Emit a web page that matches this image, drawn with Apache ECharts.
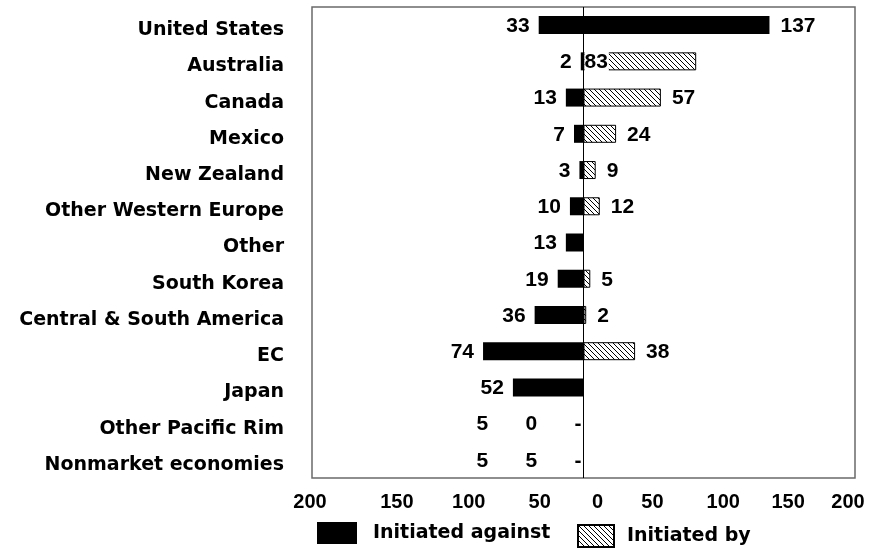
<!DOCTYPE html>
<html><head><meta charset="utf-8">
<script src="https://cdn.jsdelivr.net/npm/echarts@6/dist/echarts.min.js"></script>
<style>html,body{margin:0;padding:0;background:#fff}#c{width:878px;height:554px}</style>
</head><body><div id="c"></div>
<script>
// ---- data ----
const categories = ['United States','Australia','Canada','Mexico','New Zealand','Other Western Europe','Other','South Korea','Central & South America','EC','Japan','Other Pacific Rim','Nonmarket economies'];
const initiatedAgainst = [33,2,13,7,3,10,13,19,36,74,52,50,55];
const initiatedBy = [137,83,57,24,9,12,null,5,2,38,null,null,null];
const tickValues = [-200,-150,-100,-50,0,50,100,150,200];
const tickLabels = ['200','150','100','50','0','50','100','150','200'];
const legendLabels = ['Initiated against','Initiated by'];
const unplottedRows = ['Other Pacific Rim','Nonmarket economies']; // values printed, bars not drawn
const solidByRows = ['United States'];   // "initiated by" bar drawn solid black
const insideLabelRows = ['Australia'];   // "initiated by" value printed inside the bar

// ---- styles ----
const NUM_FONT = 'Liberation Sans';
const TXT_FONT = 'DejaVu Sans';
const tickShift = [-2,17,21,24,14,1,4,1,-7];
const rich = {};
tickShift.forEach((s,i)=>{
  rich['t'+i] = {fontFamily:NUM_FONT,fontWeight:'bold',fontSize:20,color:'#000',
    padding: s>=0 ? [0,0,0,2*s] : [0,-2*s,0,0]};
});

function hatch(){
  const s=5, c=document.createElement('canvas');
  c.width=s; c.height=s;
  const g=c.getContext('2d');
  g.fillStyle='#fff'; g.fillRect(0,0,s,s);
  g.strokeStyle='#000'; g.lineWidth=1;
  g.beginPath();
  g.moveTo(-1,-1); g.lineTo(s+1,s+1);
  g.moveTo(-1,s-1); g.lineTo(1,s+1);
  g.moveTo(s-1,-1); g.lineTo(s+1,1);
  g.stroke();
  return c;
}
const hatchFill = {image: hatch(), repeat: 'repeat'};

const labelBase = {show:true, fontFamily:NUM_FONT, fontWeight:'bold', fontSize:21, color:'#000', offset:[0,1]};

const againstData = initiatedAgainst.map((v,i)=>{
  if (unplottedRows.includes(categories[i])) {
    const d = String(v).split('');
    return {value:-v, itemStyle:{color:'rgba(0,0,0,0)'},
      label:{position:'insideRight', distance:3,
        formatter: d.map(x=>'{d|'+x+'}').join('')+'{m|-}',
        rich:{d:{width:49,align:'left',fontFamily:NUM_FONT,fontWeight:'bold',fontSize:21,color:'#000'},
              m:{width:6,align:'left',fontFamily:NUM_FONT,fontWeight:'bold',fontSize:21,color:'#000'}}}};
  }
  return -v;
});

const byData = initiatedBy.map((v,i)=>{
  if (v === null) return null;
  const name = categories[i];
  if (solidByRows.includes(name)) return {value:v, itemStyle:{color:'#000', borderWidth:0}};
  if (insideLabelRows.includes(name)) return {value:v,
    label:{position:'insideLeft', distance:1, backgroundColor:'#fff', padding:[1,1,0,0]}};
  return v;
});

const chart = echarts.init(document.getElementById('c'));
chart.setOption({
  animation:false,
  backgroundColor:'#fff',
  grid:{left:312, right:23, top:7, bottom:76, show:true, borderColor:'#6a6a6a', borderWidth:1.5, backgroundColor:'transparent'},
  xAxis:{type:'value', min:-200, max:200, interval:50,
    axisLine:{show:false}, axisTick:{show:false}, splitLine:{show:false},
    axisLabel:{margin:14, formatter:(v)=>{const i=tickValues.indexOf(v); return '{t'+i+'|'+tickLabels[i]+'}';}, rich:rich}},
  yAxis:{type:'category', data:categories, inverse:true,
    axisLine:{show:false}, axisTick:{show:false},
    axisLabel:{margin:28, formatter:(v)=>'{c|'+v+'}',
      rich:{c:{fontFamily:TXT_FONT, fontWeight:'bold', fontSize:19, color:'#000', padding:[10,0,0,0]}}}},
  legend:[
    {left:312, top:517, data:[legendLabels[0]], itemWidth:40, itemHeight:22, icon:'rect',
     textStyle:{fontFamily:TXT_FONT, fontWeight:'bold', fontSize:19, color:'#000', padding:[0,0,0,11]}},
    {left:572, top:519, data:[legendLabels[1]], itemWidth:36, itemHeight:22, icon:'rect',
     textStyle:{fontFamily:TXT_FONT, fontWeight:'bold', fontSize:19, color:'#000', padding:[0,0,0,8]}}
  ],
  series:[
    {name:legendLabels[0], type:'bar', data:againstData, barWidth:18, barGap:'-100%',
     itemStyle:{color:'#000'},
     label:Object.assign({}, labelBase, {position:'left', distance:9, formatter:(p)=>String(Math.abs(p.value))})},
    {name:legendLabels[1], type:'bar', data:byData, barWidth:18, barGap:'-100%',
     itemStyle:{color:hatchFill, borderColor:'#000', borderWidth:1},
     label:Object.assign({}, labelBase, {position:'right', distance:11}),
     markLine:{silent:true, symbol:'none', data:[{xAxis:0}], label:{show:false},
       lineStyle:{color:'#000', width:1, type:'solid'}, emphasis:{disabled:true}}}
  ]
});
</script></body></html>
